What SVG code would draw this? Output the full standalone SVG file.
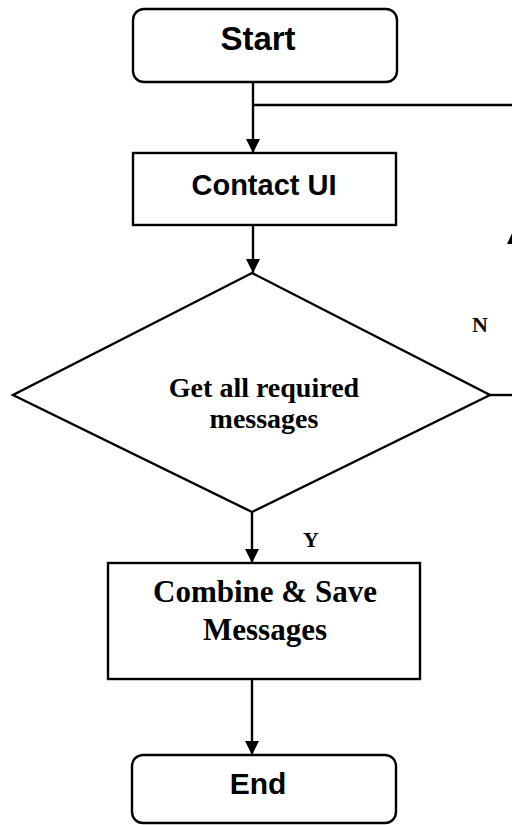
<svg xmlns="http://www.w3.org/2000/svg" width="512" height="825" viewBox="0 0 512 825">
<style>
.shape{fill:#fff;stroke:#000;stroke-width:2.4}
.line{fill:none;stroke:#000;stroke-width:2.4}
.sans{font-family:"Liberation Sans",Arial,sans-serif;font-weight:bold;fill:#000;text-anchor:middle}
.serif{font-family:"Liberation Serif","Times New Roman",serif;font-weight:bold;fill:#000}
</style>
<defs>
<marker id="arr" markerWidth="14" markerHeight="16" refX="14" refY="7" orient="auto" markerUnits="userSpaceOnUse" viewBox="0 0 14 14">
<path d="M0,0 L14,7 L0,14 Z" fill="#000"/>
</marker>
</defs>
<rect width="512" height="825" fill="#fff"/>
<g id="connectors">
<line class="line" x1="253" y1="82" x2="253" y2="153" marker-end="url(#arr)"/>
<line class="line" x1="253" y1="105" x2="512" y2="105"/>
<line class="line" x1="253" y1="225" x2="253" y2="273" marker-end="url(#arr)"/>
<line class="line" x1="490" y1="395" x2="512" y2="395"/>
<polygon points="513,231 507,244 519,244" fill="#000"/>
<line class="line" x1="252" y1="512" x2="252" y2="563" marker-end="url(#arr)"/>
<line class="line" x1="252" y1="679" x2="252" y2="755" marker-end="url(#arr)"/>
<text class="serif" x="472" y="332" font-size="22">N</text>
<text class="serif" x="311" y="547" font-size="22" text-anchor="middle">Y</text>
</g>
<g id="start">
<rect class="shape" x="133" y="9" width="264" height="73" rx="11"/>
<text class="sans" x="258" y="50" font-size="33">Start</text>
</g>
<g id="contact">
<rect class="shape" x="133" y="153" width="263" height="72"/>
<text class="sans" x="264" y="195" font-size="29">Contact UI</text>
</g>
<g id="decision">
<polygon class="shape" points="252,273 490,395 252,512 13,395"/>
<text class="serif" x="264" y="397" font-size="28" text-anchor="middle">Get all required</text>
<text class="serif" x="264" y="428" font-size="28" text-anchor="middle">messages</text>
</g>
<g id="combine">
<rect class="shape" x="108" y="563" width="312" height="116"/>
<text class="serif" x="265" y="602" font-size="31" text-anchor="middle">Combine &amp; Save</text>
<text class="serif" x="265" y="640" font-size="31" text-anchor="middle">Messages</text>
</g>
<g id="end">
<rect class="shape" x="132" y="755" width="264" height="68" rx="11"/>
<text class="sans" x="258" y="794" font-size="30">End</text>
</g>
</svg>
